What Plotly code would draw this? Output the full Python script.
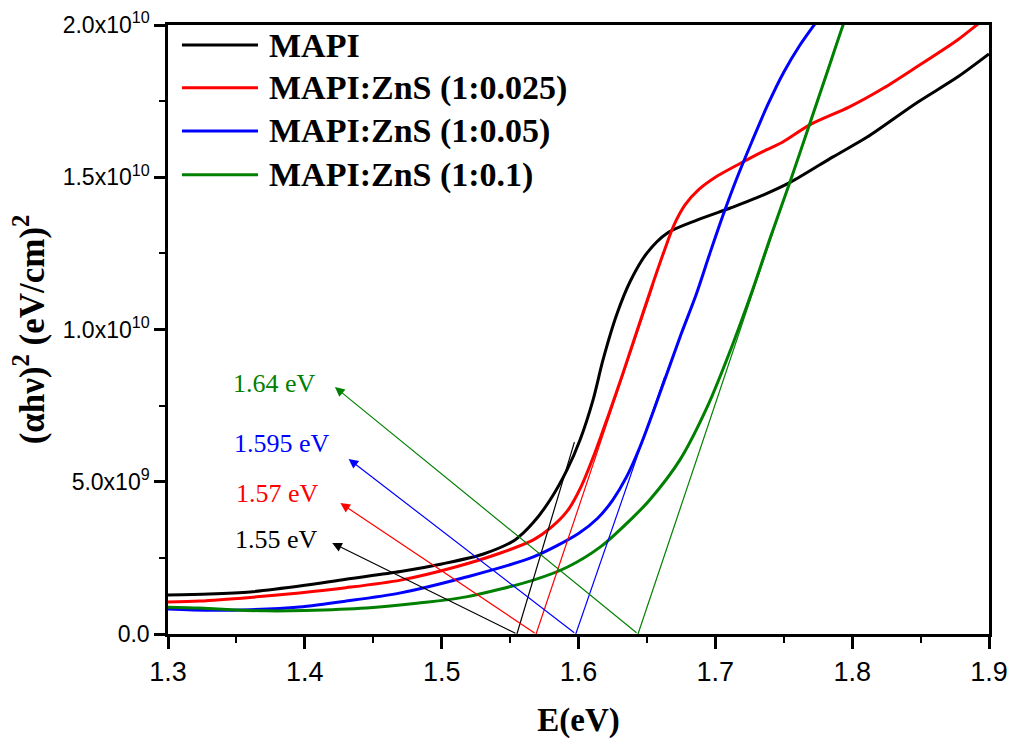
import plotly.graph_objects as go

# ---------------- data ----------------
E_mapi = [1.300, 1.330, 1.360, 1.400, 1.430, 1.470, 1.500, 1.530, 1.5536, 1.5668, 1.5792, 1.5916,
          1.6011, 1.6106, 1.6179, 1.628, 1.638, 1.650, 1.665, 1.687, 1.711, 1.730, 1.755,
          1.786, 1.811, 1.847, 1.877, 1.900]
Y_mapi = [1.28, 1.31, 1.38, 1.60, 1.80, 2.05, 2.30, 2.62, 3.09, 3.65, 4.40, 5.39,
          6.37, 7.68, 9.00, 10.50, 11.60, 12.51, 13.17, 13.60, 13.99, 14.32, 14.84,
          15.67, 16.32, 17.44, 18.29, 19.05]

E_025 = [1.300, 1.323, 1.360, 1.396, 1.430, 1.470, 1.510, 1.543, 1.567, 1.580, 1.592, 1.602,
         1.612, 1.622, 1.632, 1.642, 1.652, 1.662, 1.670, 1.678, 1.688, 1.700, 1.718, 1.735,
         1.749, 1.769, 1.798, 1.823, 1.847, 1.877, 1.893, 1.900]
Y_025 = [1.05, 1.08, 1.20, 1.35, 1.52, 1.77, 2.20, 2.66, 3.09, 3.50, 4.05, 4.85,
         5.95, 7.20, 8.50, 9.85, 11.20, 12.50, 13.45, 14.10, 14.60, 15.00, 15.45, 15.85,
         16.15, 16.72, 17.31, 17.93, 18.62, 19.51, 20.07, 20.30]

E_05 = [1.300, 1.330, 1.360, 1.396, 1.430, 1.470, 1.518, 1.567, 1.600, 1.614, 1.625, 1.635,
        1.645, 1.655, 1.665, 1.675, 1.686, 1.696, 1.706, 1.716, 1.727, 1.738, 1.750, 1.762,
        1.773, 1.778]
Y_05 = [0.82, 0.78, 0.80, 0.89, 1.08, 1.35, 1.87, 2.53, 3.30, 3.80, 4.40, 5.15,
        6.15, 7.35, 8.60, 9.85, 11.15, 12.50, 13.80, 15.00, 16.20, 17.35, 18.45, 19.35,
        20.05, 20.35]

E_1 = [1.300, 1.323, 1.350, 1.372, 1.400, 1.445, 1.480, 1.518, 1.567, 1.592, 1.616, 1.640,
       1.652, 1.674, 1.694, 1.713, 1.728, 1.740, 1.755, 1.769, 1.781, 1.793, 1.796]
Y_1 = [0.88, 0.85, 0.79, 0.76, 0.77, 0.85, 1.00, 1.22, 1.77, 2.20, 2.86, 3.84,
       4.40, 5.71, 7.45, 9.55, 11.40, 13.00, 14.90, 16.76, 18.35, 19.95, 20.30]

series_names = ["MAPI", "MAPI:ZnS (1:0.025)", "MAPI:ZnS (1:0.05)", "MAPI:ZnS (1:0.1)"]
series_colors = ["#000000", "#ff0000", "#0000ff", "#008000"]

# tangent (Tauc) lines: [x0, x1], [y0, y1] in units of 1e9
tan_mapi_x, tan_mapi_y = [1.555, 1.597], [0.0, 6.3]
tan_025_x, tan_025_y = [1.569, 1.655], [0.0, 11.5]
tan_05_x, tan_05_y = [1.598, 1.663], [0.0, 8.45]
tan_1_x, tan_1_y = [1.6435, 1.793], [0.0, 20.0]

# band-gap labels, arrow heads (tip) and label positions
gap_labels = ["1.55 eV", "1.57 eV", "1.595 eV", "1.64 eV"]
arrow_tip_x = [1.420, 1.426, 1.432, 1.422]
arrow_tip_y = [2.99, 4.30, 5.75, 8.11]
label_x = [1.379, 1.380, 1.383, 1.378]
label_y = [3.09, 4.63, 6.27, 8.24]

y_tickvals = [0, 5e9, 1e10, 1.5e10, 2e10]
y_ticktext = ["0.0", "5.0x10<sup>9</sup>", "1.0x10<sup>10</sup>",
              "1.5x10<sup>10</sup>", "2.0x10<sup>10</sup>"]
x_tickvals = [1.3, 1.4, 1.5, 1.6, 1.7, 1.8, 1.9]
x_ticktext = ["1.3", "1.4", "1.5", "1.6", "1.7", "1.8", "1.9"]

SCALE = 1e9
SERIF = "Liberation Serif, Times New Roman, serif"
SANS = "Liberation Sans, Arial, sans-serif"

fig = go.Figure()

curves = [(E_mapi, Y_mapi), (E_025, Y_025), (E_05, Y_05), (E_1, Y_1)]
for (ex, ey), name, col in zip(curves, series_names, series_colors):
    fig.add_trace(go.Scatter(
        x=ex, y=[v * SCALE for v in ey], mode="lines", name=name, showlegend=False,
        line=dict(color=col, width=3, shape="spline", smoothing=0.8),
    ))

tangents = [(tan_mapi_x, tan_mapi_y), (tan_025_x, tan_025_y),
            (tan_05_x, tan_05_y), (tan_1_x, tan_1_y)]
for (tx, ty), col in zip(tangents, series_colors):
    fig.add_trace(go.Scatter(
        x=tx, y=[v * SCALE for v in ty], mode="lines", showlegend=False,
        line=dict(color=col, width=1.2), hoverinfo="skip",
    ))

for i, col in enumerate(series_colors):
    # arrow from tangent foot to label
    fig.add_annotation(
        x=arrow_tip_x[i], y=arrow_tip_y[i] * SCALE,
        ax=tangents[i][0][0], ay=0,
        xref="x", yref="y", axref="x", ayref="y",
        showarrow=True, arrowhead=2, arrowsize=1.6, arrowwidth=1.2,
        arrowcolor=col, text="",
    )
    fig.add_annotation(
        x=label_x[i], y=label_y[i] * SCALE, xref="x", yref="y",
        text=gap_labels[i], showarrow=False,
        font=dict(family=SERIF, size=26, color=col),
    )

# legend (line samples + bold labels, top-left inside the frame)
leg_y = [0.967, 0.897, 0.826, 0.754]
for i, (name, col) in enumerate(zip(series_names, series_colors)):
    fig.add_shape(type="line", xref="paper", yref="paper",
                  x0=0.017, x1=0.1096, y0=leg_y[i], y1=leg_y[i],
                  line=dict(color=col, width=3))
    fig.add_annotation(
        x=0.1206, y=leg_y[i], xref="paper", yref="paper", xanchor="left", yanchor="middle",
        text="<b>" + name + "</b>", showarrow=False,
        font=dict(family=SERIF, size=34, color="black"),
    )

fig.update_layout(
    width=1013, height=742,
    margin=dict(l=168, r=24, t=25, b=108),
    paper_bgcolor="white", plot_bgcolor="white",
    showlegend=False,
    xaxis=dict(
        range=[1.3, 1.9], tickmode="array", tickvals=x_tickvals, ticktext=x_ticktext,
        ticks="outside", ticklen=12, tickwidth=2.5, tickcolor="black",
        showline=True, linecolor="black", linewidth=2.5, mirror=True,
        showgrid=False, zeroline=False, automargin=False,
        tickfont=dict(family=SANS, size=27, color="black"),
        minor=dict(tickmode="linear", tick0=1.3, dtick=0.05, ticks="outside",
                   ticklen=6, tickwidth=2, tickcolor="black"),
        title=dict(text="<b>E(eV)</b>", font=dict(family=SERIF, size=33, color="black"),
                   standoff=22),
    ),
    xaxis2=dict(
        overlaying="x", side="top", range=[1.3, 1.9], tickmode="linear", tick0=1.3,
        dtick=0.05, ticks="outside", ticklen=3, tickwidth=1.5, tickcolor="black",
        showticklabels=False, showgrid=False, zeroline=False, showline=False,
        automargin=False,
    ),
    yaxis=dict(
        range=[0, 2e10], tickmode="array", tickvals=y_tickvals, ticktext=y_ticktext,
        ticks="outside", ticklen=11, tickwidth=2.5, tickcolor="black",
        showline=True, linecolor="black", linewidth=2.5, mirror=True,
        showgrid=False, zeroline=False, automargin=False,
        tickfont=dict(family=SANS, size=23, color="black"),
        minor=dict(tickmode="linear", tick0=0, dtick=2.5e9, ticks="outside",
                   ticklen=6, tickwidth=2, tickcolor="black"),
        title=dict(text="<b>(αhν)<sup>2</sup> (eV/cm)<sup>2</sup></b>",
                   font=dict(family=SERIF, size=35, color="black"), standoff=8),
    ),
)

fig.write_html("out.html")
